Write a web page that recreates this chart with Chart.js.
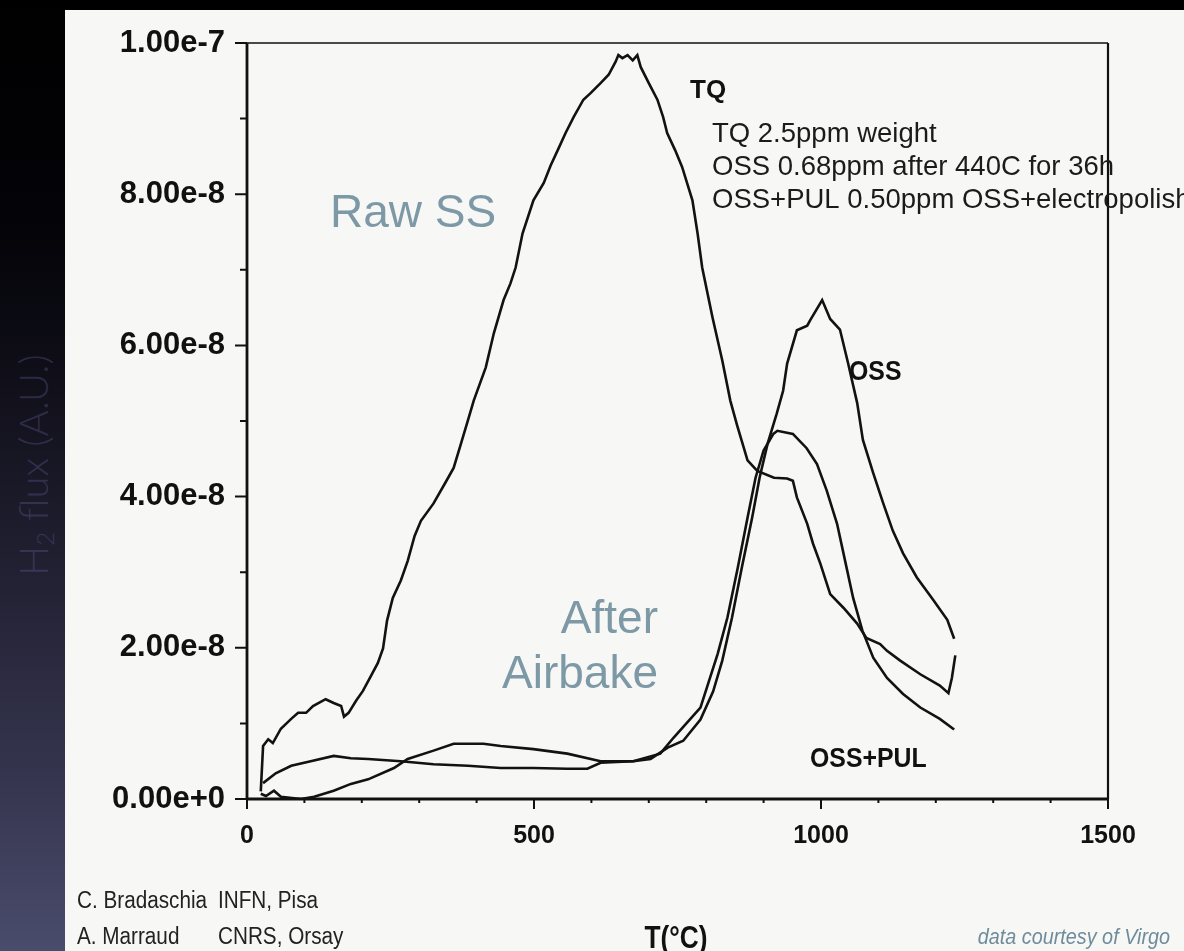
<!DOCTYPE html>
<html>
<head>
<meta charset="utf-8">
<script src="https://cdn.jsdelivr.net/npm/chart.js@4/dist/chart.umd.min.js"></script>
<style>
  html, body { margin: 0; padding: 0; background: #000; }
  #slide { position: relative; width: 1184px; height: 951px; overflow: hidden; background: #000; }
  #strip {
    position: absolute; left: 0; top: 0; width: 65px; height: 951px;
    background: linear-gradient(to bottom, #000 0%, #040409 25%, #14131f 45%, #262539 65%, #35354f 82%, #4a4c6c 100%);
  }
  #ylabel {
    position: absolute; left: -116px; top: 440px; width: 300px; height: 50px;
    line-height: 50px; text-align: center; transform: rotate(-90deg);
    font: 300 40px "Lato", "Open Sans", sans-serif; color: rgba(110, 110, 175, 0.30);
    white-space: nowrap;
  }
  #ylabel sub { font-size: 24px; vertical-align: -6px; line-height: 0; }
  #paper { position: absolute; left: 65px; top: 10px; right: 0; bottom: 0; background: #f7f7f6; }
  #chart { position: absolute; left: 0; top: 0; }
</style>
</head>
<body>
<div id="slide">
  <div id="strip"><div id="ylabel">H<sub>2</sub> flux (A.U.)</div></div>
  <div id="paper"></div>
  <canvas id="chart" width="1184" height="951"></canvas>
</div>
<script>
  // DATA  (flux in units of 1e-8, temperature in deg C)
  const xTickLabels = ['0', '500', '1000', '1500'];
  const yTickLabels = ['0.00e+0', '2.00e-8', '4.00e-8', '6.00e-8', '8.00e-8', '1.00e-7'];

  const tqTemp = [24, 28, 37, 45, 59, 77, 89, 103, 115, 137, 151, 164, 169, 177, 190, 202, 216, 228, 237, 244,
    254, 268, 280, 292, 303, 325, 346, 360, 372, 385, 395, 416, 430, 447, 459, 468, 480, 499, 517, 529,
    543, 555, 569, 586, 599, 616, 630, 642, 647, 654, 663, 672, 680, 686, 700, 715, 725, 732, 746, 758,
    776, 785, 793, 811, 828, 842, 854, 872, 889, 918, 941, 951, 958, 976, 986, 999, 1016, 1039, 1063, 1079,
    1103, 1115, 1138, 1173, 1207, 1222, 1228, 1234];
  const tqFlux = [0.10, 0.70, 0.79, 0.74, 0.93, 1.06, 1.14, 1.14, 1.23, 1.32, 1.27, 1.23, 1.09, 1.14, 1.30, 1.43, 1.63, 1.80, 1.99, 2.36,
    2.66, 2.89, 3.15, 3.48, 3.68, 3.91, 4.19, 4.38, 4.68, 5.01, 5.27, 5.71, 6.16, 6.60, 6.82, 7.03, 7.48, 7.92, 8.15, 8.38,
    8.61, 8.81, 9.02, 9.25, 9.34, 9.47, 9.58, 9.75, 9.84, 9.80, 9.84, 9.77, 9.84, 9.68, 9.47, 9.25, 9.02, 8.81, 8.58, 8.36,
    7.92, 7.48, 7.03, 6.37, 5.80, 5.27, 4.94, 4.48, 4.34, 4.25, 4.24, 4.21, 3.99, 3.64, 3.38, 3.11, 2.71, 2.53, 2.32, 2.13,
    2.05, 1.96, 1.83, 1.65, 1.50, 1.40, 1.60, 1.90];

  const ossTemp = [28, 50, 77, 111, 151, 181, 211, 268, 325, 385, 442, 499, 558, 593, 616, 673, 703, 733, 760, 790,
    812, 828, 845, 862, 880, 893, 907, 923, 934, 941, 958, 976, 981, 1002, 1016, 1033, 1047, 1063, 1073, 1091,
    1108, 1125, 1143, 1167, 1195, 1220, 1232];
  const ossFlux = [0.21, 0.34, 0.44, 0.50, 0.57, 0.54, 0.53, 0.50, 0.46, 0.44, 0.41, 0.41, 0.40, 0.40, 0.48, 0.50, 0.53, 0.68, 0.77, 1.05,
    1.42, 1.83, 2.40, 3.06, 3.72, 4.25, 4.70, 5.10, 5.40, 5.76, 6.20, 6.26, 6.33, 6.60, 6.35, 6.21, 5.77, 5.24, 4.75, 4.31,
    3.92, 3.55, 3.25, 2.93, 2.64, 2.37, 2.12];

  const pulTemp = [24, 33, 47, 59, 94, 117, 151, 181, 211, 256, 280, 325, 360, 412, 442, 499, 558, 616, 673, 720,
    743, 790, 820, 837, 855, 872, 886, 900, 917, 924, 951, 975, 993, 1010, 1028, 1042, 1056, 1072, 1091, 1115,
    1143, 1173, 1207, 1232];
  const pulFlux = [0.07, 0.04, 0.11, 0.03, 0.00, 0.03, 0.11, 0.20, 0.26, 0.41, 0.53, 0.64, 0.73, 0.73, 0.70, 0.66, 0.60, 0.50, 0.50, 0.60,
    0.81, 1.21, 1.92, 2.40, 3.06, 3.72, 4.25, 4.61, 4.83, 4.87, 4.83, 4.64, 4.43, 4.08, 3.64, 3.15, 2.66, 2.23, 1.87, 1.60,
    1.39, 1.21, 1.06, 0.92];

  const SANS = '"Liberation Sans", Arial, sans-serif';
  const SLATE = '#7d99a6';

  // free text on the slide (sx squeezes the text horizontally)
  const notes = [
    { text: 'TQ', x: 690, y: 98, font: `bold 26px ${SANS}`, color: '#111' },
    { text: 'TQ 2.5ppm weight', x: 712, y: 142, font: `27.5px ${SANS}`, color: '#1b1b1b' },
    { text: 'OSS 0.68ppm after 440C for 36h', x: 712, y: 175, font: `27.5px ${SANS}`, color: '#1b1b1b' },
    { text: 'OSS+PUL 0.50ppm OSS+electropolish', x: 712, y: 208, font: `27.5px ${SANS}`, color: '#1b1b1b' },
    { text: 'OSS', x: 849, y: 380, font: `bold 27px ${SANS}`, color: '#111', sx: 0.92 },
    { text: 'OSS+PUL', x: 810, y: 767, font: `bold 27px ${SANS}`, color: '#111', sx: 0.92 },
    { text: 'Raw SS', x: 330, y: 227, font: `46px ${SANS}`, color: SLATE },
    { text: 'After', x: 658, y: 633, font: `46px ${SANS}`, color: SLATE, align: 'right' },
    { text: 'Airbake', x: 658, y: 688, font: `46px ${SANS}`, color: SLATE, align: 'right' },
    { text: 'C. Bradaschia', x: 77, y: 908, font: `23px ${SANS}`, color: '#222', sx: 0.9 },
    { text: 'INFN, Pisa', x: 218, y: 908, font: `23px ${SANS}`, color: '#222', sx: 0.9 },
    { text: 'A. Marraud', x: 77, y: 944, font: `23px ${SANS}`, color: '#222', sx: 0.9 },
    { text: 'CNRS, Orsay', x: 218, y: 944, font: `23px ${SANS}`, color: '#222', sx: 0.9 },
    { text: 'T(°C)', x: 676, y: 948, font: `bold 32px ${SANS}`, color: '#111', align: 'center', sx: 0.82 },
    { text: 'data courtesy of Virgo', x: 1170, y: 944, font: `italic 22px ${SANS}`, color: '#6f8c9a', align: 'right', sx: 0.9 }
  ];

  function series(temps, flux) {
    return temps.map((t, i) => ({ x: t, y: flux[i] }));
  }

  // box, major and minor ticks
  const frame = {
    id: 'frame',
    afterDatasetsDraw(chart) {
      const { ctx, chartArea: a, scales: { x, y } } = chart;
      ctx.save();
      ctx.strokeStyle = '#111';

      ctx.lineWidth = 1.5;
      ctx.beginPath();
      ctx.moveTo(a.left, a.top); ctx.lineTo(a.right, a.top);
      ctx.stroke();
      ctx.lineWidth = 2.2;
      ctx.beginPath();
      ctx.moveTo(a.right, a.top); ctx.lineTo(a.right, a.bottom);
      ctx.stroke();
      ctx.lineWidth = 2.8;
      ctx.beginPath();
      ctx.moveTo(a.left, a.top); ctx.lineTo(a.left, a.bottom + 1);
      ctx.moveTo(a.left - 1, a.bottom); ctx.lineTo(a.right + 1, a.bottom);
      ctx.stroke();

      ctx.lineWidth = 2;
      ctx.beginPath();
      for (let v = 0; v <= 1500; v += 100) {
        const px = x.getPixelForValue(v);
        const len = v % 500 === 0 ? 10 : 4;
        ctx.moveTo(px, a.bottom); ctx.lineTo(px, a.bottom + len);
      }
      for (let v = 0; v <= 10; v += 1) {
        const py = y.getPixelForValue(v);
        const len = v % 2 === 0 ? 12 : 7;
        ctx.moveTo(a.left, py); ctx.lineTo(a.left - len, py);
      }
      ctx.stroke();
      ctx.restore();
    }
  };

  const texts = {
    id: 'texts',
    afterDraw(chart) {
      const { ctx } = chart;
      notes.forEach(n => {
        ctx.save();
        ctx.font = n.font;
        ctx.fillStyle = n.color;
        ctx.textAlign = n.align || 'left';
        ctx.textBaseline = 'alphabetic';
        ctx.translate(n.x, n.y);
        ctx.scale(n.sx || 1, 1);
        ctx.fillText(n.text, 0, 0);
        ctx.restore();
      });
    }
  };

  const lineStyle = {
    borderColor: '#121212',
    borderWidth: 2.6,
    pointRadius: 0,
    tension: 0,
    fill: false
  };

  const ctx = document.getElementById('chart').getContext('2d');
  const chart = new Chart(ctx, {
    type: 'line',
    data: {
      datasets: [
        { label: 'TQ', data: series(tqTemp, tqFlux), ...lineStyle },
        { label: 'OSS', data: series(ossTemp, ossFlux), ...lineStyle },
        { label: 'OSS+PUL', data: series(pulTemp, pulFlux), ...lineStyle }
      ]
    },
    plugins: [frame, texts],
    options: {
      responsive: false,
      animation: false,
      devicePixelRatio: 1,
      layout: { padding: { top: 43, right: 76, left: 0, bottom: 0 } },
      plugins: {
        legend: { display: false },
        tooltip: { enabled: false }
      },
      scales: {
        x: {
          type: 'linear',
          min: 0,
          max: 1500,
          grid: { display: false, drawTicks: false },
          border: { display: false },
          ticks: {
            stepSize: 500,
            padding: 22,
            color: '#111',
            font: { family: SANS, size: 25, weight: 'bold' },
            maxRotation: 0,
            autoSkip: false,
            callback: (v, i) => xTickLabels[i]
          },
          afterFit: (scale) => { scale.height = 152; }
        },
        y: {
          min: 0,
          max: 10,
          grid: { display: false, drawTicks: false },
          border: { display: false },
          ticks: {
            stepSize: 2,
            padding: 22,
            color: '#111',
            font: { family: SANS, size: 31, weight: 'bold' },
            autoSkip: false,
            callback: (v, i) => yTickLabels[i]
          },
          afterFit: (scale) => { scale.width = 247; }
        }
      }
    }
  });
</script>
</body>
</html>
